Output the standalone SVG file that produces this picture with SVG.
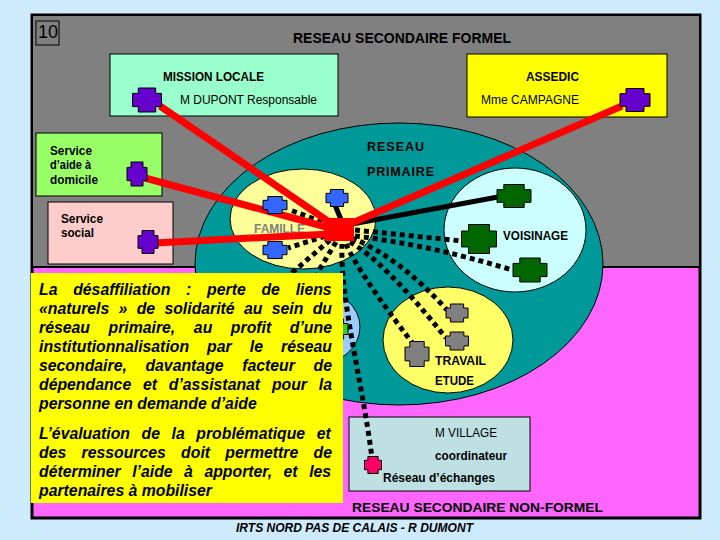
<svg xmlns="http://www.w3.org/2000/svg" width="720" height="540" viewBox="0 0 720 540">
<style>
text{font-family:"Liberation Sans",Arial,sans-serif;fill:#000}
.b{font-weight:bold}
.t14{font-size:14px}
.t13{font-size:13px}
.t12{font-size:12.5px}
.box{stroke:#000;stroke-width:1}
.ell{stroke:#000;stroke-width:1}
.red{stroke:#FF0000;stroke-width:7;fill:none}
.blk{stroke:#000;stroke-width:5;fill:none}
.dot{stroke:#000;stroke-width:5;fill:none;stroke-dasharray:5 4}
.para{font-size:15.8px;font-weight:bold;font-style:italic}
.purple{fill:#6600CC}
.blue{fill:#3366FF}
.dgreen{fill:#006600}
.gray{fill:#808080}
.pink{fill:#FF0066}
.lgreen{fill:#33CC33}
</style>
<defs>
<path id="cr" d="M-0.6,-1H0.6V-0.55H1V0.55H0.6V1H-0.6V0.55H-1V-0.55H-0.6Z" stroke="#000" stroke-width="1" vector-effect="non-scaling-stroke"/>
</defs>
<rect x="0" y="0" width="720" height="540" fill="#CDEBFD"/>
<g id="frame">
<rect x="32" y="15" width="668" height="503" fill="#FF66FF" stroke="#000" stroke-width="3"/>
<rect x="32" y="15" width="668" height="252" fill="#808080" stroke="#000" stroke-width="2"/>
<rect x="36" y="21" width="23" height="24" fill="none" stroke="#000" stroke-width="1"/>
<text x="38" y="38" font-size="18">10</text>
<text x="293" y="43" class="b t14" textLength="218" lengthAdjust="spacingAndGlyphs">RESEAU SECONDAIRE FORMEL</text>
</g>
<g id="mission-locale">
<rect x="110" y="54" width="228" height="62" fill="#99FFCC" class="box"/>
<text x="163" y="81" class="b t13" textLength="101" lengthAdjust="spacingAndGlyphs">MISSION LOCALE</text>
<text x="180" y="104" class="t12" textLength="137" lengthAdjust="spacingAndGlyphs">M DUPONT Responsable</text>
</g>
<g id="assedic">
<rect x="467" y="54" width="200" height="63" fill="#FFFF00" class="box"/>
<text x="526" y="81" class="b t13" textLength="53" lengthAdjust="spacingAndGlyphs">ASSEDIC</text>
<text x="481" y="104" class="t12" textLength="98" lengthAdjust="spacingAndGlyphs">Mme CAMPAGNE</text>
</g>
<g id="service-aide-domicile">
<rect x="36" y="133" width="126" height="63" fill="#99FF66" class="box"/>
<text x="50" y="155" class="b t12" textLength="42" lengthAdjust="spacingAndGlyphs">Service</text>
<text x="50" y="169" class="b t12" textLength="41" lengthAdjust="spacingAndGlyphs">d’aide à</text>
<text x="50" y="184" class="b t12" textLength="48" lengthAdjust="spacingAndGlyphs">domicile</text>
</g>
<g id="service-social">
<rect x="48" y="202" width="125" height="62" fill="#FFCCCC" class="box"/>
<text x="61" y="223" class="b t12" textLength="42" lengthAdjust="spacingAndGlyphs">Service</text>
<text x="61" y="237" class="b t12" textLength="33" lengthAdjust="spacingAndGlyphs">social</text>
</g>
<g id="reseau-primaire">
<ellipse cx="399" cy="264" rx="204" ry="141" fill="#009999" class="ell"/>
<text x="367" y="151" class="b t12" textLength="57" lengthAdjust="spacing">RESEAU</text>
<text x="367" y="176" class="b t12" textLength="67" lengthAdjust="spacing">PRIMAIRE</text>
</g>
<g id="famille">
<ellipse cx="303" cy="219" rx="73" ry="50" fill="#FFFF99" class="ell"/>
<text x="254" y="233" class="b t12" style="fill:#808080" textLength="51" lengthAdjust="spacingAndGlyphs">FAMILLE</text>
</g>
<g id="voisinage">
<ellipse cx="515" cy="230" rx="71" ry="62" fill="#CCFFFF" class="ell"/>
<text x="503" y="240" class="b t12" textLength="65" lengthAdjust="spacingAndGlyphs">VOISINAGE</text>
</g>
<g id="travail-etude">
<ellipse cx="448" cy="340" rx="65" ry="53" fill="#FFFF66" class="ell"/>
<text x="435" y="365" class="b t12" textLength="51" lengthAdjust="spacingAndGlyphs">TRAVAIL</text>
<text x="435" y="385" class="b t12" textLength="39" lengthAdjust="spacingAndGlyphs">ETUDE</text>
</g>
<g id="cercle-bleu">
<ellipse cx="315" cy="327" rx="45" ry="38" fill="#99CCFF" class="ell"/>
</g>
<g id="m-village">
<rect x="349" y="417" width="181" height="74" fill="#BFE0E3" class="box"/>
<text x="435" y="437" class="t12" textLength="62" lengthAdjust="spacingAndGlyphs">M VILLAGE</text>
<text x="435" y="460" class="b t12" textLength="72" lengthAdjust="spacingAndGlyphs">coordinateur</text>
<text x="383" y="482" class="b t12" textLength="112" lengthAdjust="spacingAndGlyphs">Réseau d’échanges</text>
</g>
<g id="connectors">
<path class="dot" d="M322,222 L290,210"/>
<path class="dot" d="M325,236 L288,248"/>
<path class="dot" d="M330,240 L293,272 L275,300"/>
<path class="dot" d="M336,242 L318,272 L310,300"/>
<path class="dot" d="M342,244 C340,300 362,380 372,458"/>
<path class="dot" d="M355,230 L462,241"/>
<path class="dot" d="M355,236 Q430,245 512,270"/>
<path class="dot" d="M352,238 Q400,258 447,310"/>
<path class="dot" d="M350,242 Q385,262 446,338"/>
<path class="dot" d="M346,244 Q360,275 414,345"/>
<path class="blk" d="M352,224 L498,197"/>
<path class="blk" d="M335,205 L342,222"/>
<path class="red" d="M160,106 L335,226"/>
<path class="red" d="M622,106 L350,224"/>
<path class="red" d="M145,178 L330,228"/>
<path class="red" d="M155,243 L330,234"/>
</g>
<g id="crosses">
<use href="#cr" class="purple" transform="translate(147 100) scale(14.5 12)"/>
<use href="#cr" class="purple" transform="translate(635 100) scale(15 11.5)"/>
<use href="#cr" class="purple" transform="translate(137 174) scale(10 12)"/>
<use href="#cr" class="purple" transform="translate(148 242) scale(10 11.5)"/>
<use href="#cr" class="blue" transform="translate(275 205) scale(12 8.5)"/>
<use href="#cr" class="blue" transform="translate(337 198) scale(11 8.5)"/>
<use href="#cr" class="blue" transform="translate(275 250) scale(12 8.5)"/>
<use href="#cr" class="dgreen" transform="translate(514 196) scale(17 11.5)"/>
<use href="#cr" class="dgreen" transform="translate(479 239) scale(17.5 14.5)"/>
<use href="#cr" class="dgreen" transform="translate(530 270) scale(17 12)"/>
<use href="#cr" class="gray" transform="translate(457 313) scale(11 9)"/>
<use href="#cr" class="gray" transform="translate(457 341) scale(11.5 9)"/>
<use href="#cr" class="gray" transform="translate(417 354) scale(12 12.5)"/>
<use href="#cr" class="lgreen" transform="translate(337 329) scale(11 10)"/>
<use href="#cr" class="pink" transform="translate(373 465) scale(8.5 8.5)"/>
<rect id="hub" x="324" y="218" width="30" height="23" fill="#FF0000"/>
</g>
<g id="texte">
<rect x="31" y="273" width="312" height="230" fill="#FFFF00"/>
<text class="para" x="39" y="295" style="word-spacing:11.36px">La désaffiliation : perte de liens</text>
<text class="para" x="39" y="314" style="word-spacing:4.93px">«naturels » de solidarité au sein du</text>
<text class="para" x="39" y="333" style="word-spacing:14.2px">réseau primaire, au profit d’une</text>
<text class="para" x="39" y="352" style="word-spacing:13.67px">institutionnalisation par le réseau</text>
<text class="para" x="39" y="371" style="word-spacing:14.25px">secondaire, davantage facteur de</text>
<text class="para" x="39" y="390" style="word-spacing:7.4px">dépendance et d’assistanat pour la</text>
<text class="para" x="39" y="409">personne en demande d’aide</text>
<text class="para" x="39" y="439" style="word-spacing:7.18px">L’évaluation de la problématique et</text>
<text class="para" x="39" y="458" style="word-spacing:10.91px">des ressources doit permettre de</text>
<text class="para" x="39" y="477" style="word-spacing:7.15px">déterminer l’aide à apporter, et les</text>
<text class="para" x="39" y="496">partenaires à mobiliser</text>
</g>
<g id="legende">
<text x="352" y="512" class="b t13" textLength="251" lengthAdjust="spacingAndGlyphs">RESEAU SECONDAIRE NON-FORMEL</text>
<text x="236" y="532" font-size="12" font-weight="bold" font-style="italic" textLength="237" lengthAdjust="spacingAndGlyphs">IRTS NORD PAS DE CALAIS - R DUMONT</text>
</g>
</svg>
